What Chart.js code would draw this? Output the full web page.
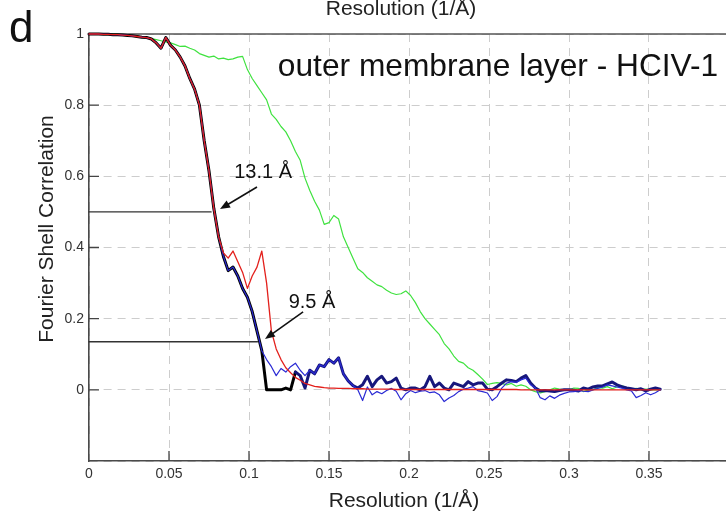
<!DOCTYPE html>
<html>
<head>
<meta charset="utf-8">
<script src="https://cdn.jsdelivr.net/npm/chart.js"></script>
<style>
  html, body { margin: 0; padding: 0; background: #fff; overflow: hidden; }
  #wrap { position: absolute; left: 0; top: 0; width: 734px; height: 514px; }
</style>
</head>
<body>
<div id="wrap"><canvas id="fscChart"></canvas></div>
<script>
// Resolution shells (1/Å)
const resolution = [
  0.000,0.003,0.006,0.009,0.012,0.015,0.018,0.021,0.024,0.027,
  0.030,0.033,0.036,0.039,0.042,0.045,0.048,0.051,0.054,0.057,
  0.060,0.063,0.066,0.069,0.072,0.075,0.078,0.081,0.084,0.087,
  0.090,0.093,0.096,0.099,0.102,0.105,0.108,0.111,0.114,0.117,
  0.120,0.123,0.126,0.129,0.132,0.135,0.138,0.141,0.144,0.147,
  0.150,0.153,0.156,0.159,0.162,0.165,0.168,0.171,0.174,0.177,
  0.180,0.183,0.186,0.189,0.192,0.195,0.198,0.201,0.204,0.207,
  0.210,0.213,0.216,0.219,0.222,0.225,0.228,0.231,0.234,0.237,
  0.240,0.243,0.246,0.249,0.252,0.255,0.258,0.261,0.264,0.267,
  0.270,0.273,0.276,0.279,0.282,0.285,0.288,0.291,0.294,0.297,
  0.300,0.303,0.306,0.309,0.312,0.315,0.318,0.321,0.324,0.327,
  0.330,0.333,0.336,0.339,0.342,0.345,0.348,0.351,0.354,0.357
];

// unmasked maps (green)
const fscUnmasked = [
  1.000,1.000,1.000,1.000,0.999,0.999,0.998,0.997,0.996,0.995,
  0.994,0.992,0.990,0.987,0.984,0.981,0.978,0.975,0.970,0.965,
  0.966,0.960,0.955,0.945,0.940,0.935,0.938,0.930,0.932,0.928,
  0.930,0.935,0.937,0.900,0.875,0.855,0.835,0.815,0.775,0.760,
  0.740,0.725,0.700,0.670,0.645,0.595,0.560,0.530,0.505,0.465,
  0.470,0.490,0.480,0.430,0.400,0.370,0.340,0.330,0.315,0.305,
  0.295,0.290,0.280,0.272,0.268,0.270,0.278,0.265,0.245,0.220,
  0.200,0.185,0.170,0.155,0.130,0.115,0.095,0.080,0.075,0.062,
  0.055,0.043,0.030,0.015,0.018,0.020,0.018,0.014,0.018,0.010,
  0.014,0.010,0.000,-0.005,-0.009,-0.005,0.000,0.005,0.002,0.000,
  0.000,0.005,0.004,-0.005,0.000,0.000,0.007,0.005,0.009,0.003,
  0.008,0.012,0.005,0.002,0.004,0.000,0.002,0.000,0.000,0.000
];

// masked maps (blue)
const fscMasked = [
  1.000,1.000,1.000,0.999,0.999,0.998,0.998,0.997,0.996,0.995,
  0.993,0.991,0.990,0.986,0.975,0.960,0.990,0.968,0.955,0.935,
  0.910,0.875,0.845,0.800,0.700,0.615,0.510,0.430,0.375,0.335,
  0.345,0.320,0.285,0.260,0.220,0.165,0.110,0.085,0.065,0.040,
  0.060,0.050,0.065,0.075,0.055,0.040,0.055,0.045,0.070,0.065,
  0.085,0.075,0.090,0.045,0.025,0.012,0.000,-0.030,0.008,-0.014,
  -0.005,-0.011,-0.002,0.004,-0.004,-0.028,-0.011,-0.002,-0.008,-0.004,
  -0.002,-0.008,-0.006,-0.014,-0.033,-0.023,-0.016,-0.005,0.002,0.005,
  0.009,-0.002,-0.005,-0.009,-0.030,-0.019,0.005,0.019,0.023,0.021,
  0.028,0.033,0.014,0.005,-0.022,-0.028,-0.017,-0.024,-0.015,-0.010,
  -0.006,-0.005,-0.002,-0.004,-0.005,0.000,0.004,0.008,0.014,0.011,
  0.008,0.005,0.000,-0.003,-0.022,-0.016,-0.008,-0.014,-0.008,0.000
];

// phase randomized masked maps (red)
const fscRandomized = [
  1.000,1.000,1.000,0.999,0.999,0.998,0.998,0.997,0.996,0.995,
  0.993,0.991,0.990,0.986,0.975,0.960,0.990,0.968,0.955,0.935,
  0.910,0.875,0.845,0.800,0.700,0.615,0.510,0.430,0.385,0.370,
  0.390,0.360,0.330,0.285,0.320,0.345,0.390,0.300,0.165,0.115,
  0.085,0.062,0.048,0.035,0.027,0.018,0.014,0.010,0.008,0.006,
  0.005,0.005,0.004,0.004,0.004,0.003,0.003,0.003,0.002,0.002,
  0.002,0.002,0.002,0.002,0.001,0.001,0.001,0.001,0.001,0.001,
  0.001,0.001,0.001,0.001,0.001,0.001,0.001,0.001,0.001,0.001,
  0.001,0.001,0.001,0.001,0.001,0.001,0.001,0.001,0.001,0.001,
  0.000,0.000,0.000,0.000,0.000,0.000,0.000,0.000,0.000,0.000,
  0.000,0.000,0.000,0.000,0.000,0.000,0.000,0.000,0.000,0.000,
  0.000,0.000,0.000,0.000,0.000,0.000,0.000,0.000,0.000,0.000
];

// corrected (thick dark)
const fscCorrected = [
  1.000,1.000,1.000,0.999,0.999,0.998,0.998,0.997,0.996,0.995,
  0.993,0.991,0.990,0.986,0.975,0.960,0.990,0.968,0.955,0.935,
  0.910,0.875,0.845,0.800,0.700,0.615,0.510,0.430,0.375,0.335,
  0.345,0.320,0.285,0.260,0.220,0.165,0.110,0.000,0.000,0.000,
  0.000,0.005,0.000,0.050,0.040,0.005,0.055,0.045,0.070,0.065,
  0.085,0.075,0.090,0.045,0.025,0.012,0.005,0.014,0.038,0.009,
  0.028,0.038,0.019,0.023,0.033,0.005,0.000,0.005,0.005,0.000,
  0.009,0.038,0.009,0.019,0.005,0.000,0.019,0.014,0.009,0.023,
  0.014,0.019,0.019,0.002,0.000,0.009,0.019,0.028,0.026,0.023,
  0.033,0.040,0.019,0.005,-0.003,-0.002,-0.003,-0.005,-0.002,0.000,
  0.000,-0.001,-0.003,0.005,0.002,0.008,0.011,0.011,0.017,0.022,
  0.014,0.009,0.005,0.003,0.000,0.003,-0.003,0.002,0.005,0.002
];

// resolution cut-offs: [1/Å, FSC threshold]
const cutoff131 = [0.0763, 0.5];
const cutoff95 = [0.1053, 0.135];

const FONT = 'Arial, "Liberation Sans", Helvetica, sans-serif';
Chart.defaults.font.family = FONT;

function pts(ys) {
    return resolution.map((r, i) => ({ x: r, y: ys[i] }));
}

function hLine(c) {
    return [{ x: 0, y: c[1] }, { x: c[0], y: c[1] }];
}

function drawArrow(ctx, x1, y1, x2, y2) {
    const ang = Math.atan2(y2 - y1, x2 - x1);
    const len = 10, half = 4;
    ctx.beginPath();
    ctx.moveTo(x1, y1);
    ctx.lineTo(x2 - Math.cos(ang) * len * 0.8, y2 - Math.sin(ang) * len * 0.8);
    ctx.stroke();
    ctx.beginPath();
    ctx.moveTo(x2, y2);
    ctx.lineTo(x2 - Math.cos(ang) * len - Math.sin(ang) * half, y2 - Math.sin(ang) * len + Math.cos(ang) * half);
    ctx.lineTo(x2 - Math.cos(ang) * len + Math.sin(ang) * half, y2 - Math.sin(ang) * len - Math.cos(ang) * half);
    ctx.closePath();
    ctx.fill();
}

// frame, inward ticks and the text around the plot
const decorations = {
    id: 'decorations',
    beforeDatasetsDraw(chart) {
        const { ctx, chartArea: a, scales: { x, y } } = chart;
        ctx.save();
        ctx.strokeStyle = '#555';
        ctx.lineWidth = 1.3;
        ctx.beginPath();
        ctx.moveTo(a.left, a.top);
        ctx.lineTo(a.right, a.top);
        ctx.stroke();

        ctx.strokeStyle = '#444';
        ctx.lineWidth = 1.3;
        ctx.beginPath();
        x.ticks.forEach(t => {
            if (t.value <= 0.001 || t.value > 0.39) return;
            const px = x.getPixelForValue(t.value);
            ctx.moveTo(px, a.bottom);
            ctx.lineTo(px, a.bottom - 10);
        });
        y.ticks.forEach(t => {
            if (t.value < -0.1) return;
            const py = y.getPixelForValue(t.value);
            ctx.moveTo(a.left, py);
            ctx.lineTo(a.left + 10, py);
        });
        ctx.stroke();
        ctx.restore();
    },
    afterDatasetsDraw(chart) {
        const { ctx, scales: { x, y } } = chart;
        ctx.save();
        ctx.fillStyle = '#111';
        ctx.strokeStyle = '#111';
        ctx.lineWidth = 1.6;

        // arrows
        drawArrow(ctx, x.getPixelForValue(0.105), y.getPixelForValue(0.570),
                  x.getPixelForValue(0.0819), y.getPixelForValue(0.508));
        drawArrow(ctx, x.getPixelForValue(0.1338), y.getPixelForValue(0.219),
                  x.getPixelForValue(0.110), y.getPixelForValue(0.143));

        ctx.textAlign = 'center';
        ctx.textBaseline = 'alphabetic';
        ctx.font = '20px ' + FONT;
        ctx.fillText('13.1 Å', x.getPixelForValue(0.1088), y.getPixelForValue(0.5955));
        ctx.fillText('9.5 Å', x.getPixelForValue(0.1394), y.getPixelForValue(0.2295));

        ctx.font = '31.7px ' + FONT;
        ctx.fillText('outer membrane layer - HCIV-1', 498, 76);

        ctx.fillStyle = '#222';
        ctx.font = '21px ' + FONT;
        ctx.fillText('Resolution (1/Å)', 404, 507);
        ctx.fillText('Resolution (1/Å)', 401, 15);

        ctx.save();
        ctx.translate(53, 229);
        ctx.rotate(-Math.PI / 2);
        ctx.fillText('Fourier Shell Correlation', 0, 0);
        ctx.restore();

        ctx.fillStyle = '#111';
        ctx.textAlign = 'left';
        ctx.font = '44px ' + FONT;
        ctx.fillText('d', 9, 42);
        ctx.restore();
    }
};

const gridColor = c => (c.tick && c.tick.value > 0.39) ? 'rgba(0,0,0,0)' : '#cdcdcd';

const ctx = document.getElementById('fscChart').getContext('2d');
new Chart(ctx, {
    type: 'line',
    data: {
        datasets: [
            {
                label: 'phase randomized',
                data: pts(fscRandomized),
                borderColor: '#e3201c',
                borderWidth: 1.3,
                order: 0
            },
            {
                label: 'masked',
                data: pts(fscMasked),
                borderColor: '#2a2ad4',
                borderWidth: 1.2,
                order: 1
            },
            {
                label: 'corrected',
                data: pts(fscCorrected),
                borderColor: '#000',
                borderWidth: 3,
                segment: {
                    borderColor: c => c.p0.parsed.x >= 0.128 ? '#17177c' : '#000'
                },
                order: 2
            },
            {
                label: 'unmasked',
                data: pts(fscUnmasked),
                borderColor: '#3fe23f',
                borderWidth: 1.2,
                order: 3
            },
            {
                label: '13.1 Å',
                data: hLine(cutoff131),
                borderColor: '#333',
                borderWidth: 1.4,
                order: 4
            },
            {
                label: '9.5 Å',
                data: hLine(cutoff95),
                borderColor: '#333',
                borderWidth: 1.4,
                order: 4
            }
        ]
    },
    options: {
        responsive: true,
        maintainAspectRatio: false,
        devicePixelRatio: 1,
        animation: false,
        parsing: false,
        layout: { padding: { top: 34, right: 1, left: 0, bottom: 0 } },
        elements: {
            point: { radius: 0 },
            line: { tension: 0, fill: false, borderCapStyle: 'round', borderJoinStyle: 'round' }
        },
        datasets: { line: { clip: 4 } },
        plugins: {
            legend: { display: false },
            tooltip: { enabled: false },
            title: { display: false }
        },
        scales: {
            x: {
                type: 'linear',
                min: 0,
                max: 0.4,
                afterFit: s => { s.height = 53; },
                ticks: {
                    stepSize: 0.05,
                    padding: 5,
                    color: '#333',
                    font: { size: 14 },
                    maxRotation: 0,
                    autoSkip: false,
                    callback: v => v > 0.39 ? '' : String(Math.round(v * 100) / 100)
                },
                grid: { color: gridColor, lineWidth: 1, drawTicks: false },
                border: { display: true, color: '#4a4a4a', width: 1.6, dash: [8, 6] }
            },
            y: {
                type: 'linear',
                min: -0.2,
                max: 1,
                afterFit: s => { s.width = 89; },
                ticks: {
                    stepSize: 0.2,
                    padding: 5,
                    color: '#333',
                    font: { size: 14 },
                    callback: v => v < -0.1 ? '' : String(Math.round(v * 10) / 10)
                },
                grid: { color: '#cdcdcd', lineWidth: 1, drawTicks: false },
                border: { display: true, color: '#4a4a4a', width: 1.6, dash: [8, 6] }
            }
        }
    },
    plugins: [decorations]
});
</script>
</body>
</html>
